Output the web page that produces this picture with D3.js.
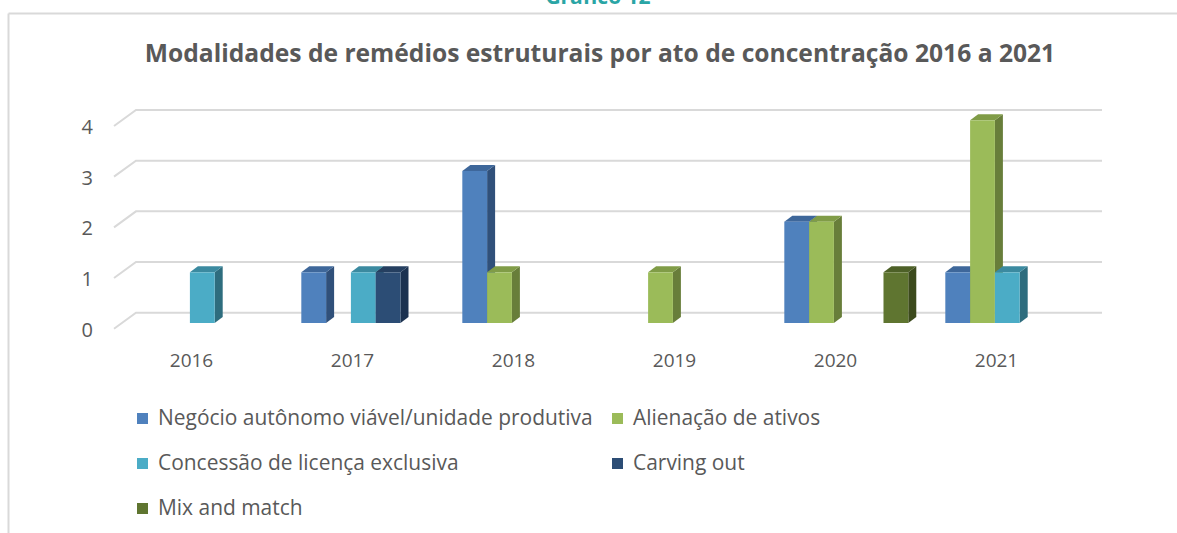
<!DOCTYPE html>
<html><head><meta charset="utf-8">
<script src="https://cdn.jsdelivr.net/npm/d3@7"></script>
<style>html,body{margin:0;padding:0;background:#fff;}svg{display:block;font-family:"Open Sans",sans-serif;}</style>
</head><body>
<svg id="c" width="1177" height="533"></svg>
<script>
const categories = ["2016","2017","2018","2019","2020","2021"];
const seriesNames = ["Negócio autônomo viável/unidade produtiva","Alienação de ativos","Concessão de licença exclusiva","Carving out","Mix and match"];
const negocio   = [0,1,3,0,2,1];
const alienacao = [0,0,1,1,2,4];
const concessao = [1,1,0,0,0,1];
const carving   = [0,1,0,0,0,0];
const mix       = [0,0,0,0,1,0];
const yTicks = [0,1,2,3,4];
const chartTitle = "Modalidades de remédios estruturais por ato de concentração 2016 a 2021";
const topLabel = "Gráfico 12";

const seriesValues = [negocio, alienacao, concessao, carving, mix];
const colors = [
  {f:"#4F81BD", s:"#30507A", t:"#3E679A"},
  {f:"#9BBB59", s:"#687E3A", t:"#809C47"},
  {f:"#4BACC6", s:"#2E6D7E", t:"#3B8AA0"},
  {f:"#2C4D75", s:"#1C3250", t:"#253F60"},
  {f:"#5F7530", s:"#3C4A1D", t:"#4D6027"}
];

const svg = d3.select("#c");
const grid = "#D9D9D9", txt = "#595959";

// frame lines
svg.append("line").attr("x1",8.5).attr("x2",1177).attr("y1",13.5).attr("y2",13.5).attr("stroke",grid).attr("stroke-width",2);
svg.append("line").attr("x1",8.5).attr("x2",8.5).attr("y1",13.5).attr("y2",533).attr("stroke",grid).attr("stroke-width",2);

// top label (cut off at the top edge, as in the reference)
svg.append("text").text(topLabel).attr("x",598).attr("y",4).attr("text-anchor","middle")
  .attr("fill","#2AA5A5").attr("font-weight","bold").attr("font-size",21);

function fit(sel, w){
  const n = sel.node(); const fs = +sel.attr("font-size");
  const m = n.getComputedTextLength();
  sel.attr("font-size", fs*w/m);
}

const title = svg.append("text").text(chartTitle).attr("x",600).attr("y",62).attr("text-anchor","middle")
  .attr("fill",txt).attr("font-weight","bold").attr("font-size",22);
fit(title, 911);

// 3D geometry
const DX = 22, DY = 16;          // floor depth
const x0 = d3.scaleBand().domain(categories).range([136,1102]).paddingInner(0.23).paddingOuter(0.115);
const x1 = d3.scaleBand().domain(d3.range(seriesNames.length)).range([0, x0.bandwidth()]);
const y = d3.scaleLinear().domain([0,4]).range([312.7,110]);
const BFX = 14.2, BFY = 10.3;   // bar front offset from back wall
const SDX = 8, SDY = 6;          // bar depth

// gridlines
const g = svg.append("g");
yTicks.forEach(v=>{
  const yy = y(v);
  g.append("path").attr("d",`M${136-DX},${yy+DY}L136,${yy}L1102,${yy}`)
    .attr("fill","none").attr("stroke",grid).attr("stroke-width",2);
  g.append("text").text(v).attr("x",93).attr("y",yy+DY+1).attr("dy","0.35em").attr("text-anchor","end")
    .attr("fill",txt).attr("font-size",20);
});

// category labels
categories.forEach(c=>{
  svg.append("text").text(c).attr("x",x0(c)+x0.bandwidth()/2-DX-3).attr("y",360).attr("dy","0.35em")
    .attr("text-anchor","middle").attr("fill",txt).attr("font-size",19);
});

// bars
const bars = svg.append("g");
categories.forEach((c,ci)=>{
  seriesValues.forEach((vals,si)=>{
    const v = vals[ci]; if(!v) return;
    const xl = x0(c)+x1(si)-BFX, xr = xl + x1.bandwidth();
    const yt = y(v)+BFY, yb = y(0)+BFY;
    const col = colors[si];
    bars.append("path").attr("d",`M${xr},${yt}L${xr+SDX},${yt-SDY}L${xr+SDX},${yb-SDY}L${xr},${yb}Z`).attr("fill",col.s);
    bars.append("path").attr("d",`M${xl},${yt}L${xl+SDX},${yt-SDY}L${xr+SDX},${yt-SDY}L${xr},${yt}Z`).attr("fill",col.t);
    bars.append("rect").attr("x",xl).attr("y",yt).attr("width",xr-xl).attr("height",yb-yt).attr("fill",col.f);
  });
});

// legend
const leg = [
  {i:0, x:137, y:418}, {i:1, x:612, y:418},
  {i:2, x:137, y:463}, {i:3, x:612, y:463},
  {i:4, x:137, y:508}
];
const lg = svg.append("g");
leg.forEach(L=>{
  lg.append("rect").attr("x",L.x).attr("y",L.y-5).attr("width",11).attr("height",11).attr("fill",colors[L.i].f);
  const t = lg.append("text").text(seriesNames[L.i]).attr("x",L.x+21).attr("y",L.y).attr("dy","0.35em")
    .attr("fill",txt).attr("font-size",18);
  if(L.i===0) fit(t, 435);
});
const fs0 = lg.selectAll("text").filter((d,i)=>i===0).attr("font-size");
lg.selectAll("text").attr("font-size",fs0);
</script>
</body></html>
